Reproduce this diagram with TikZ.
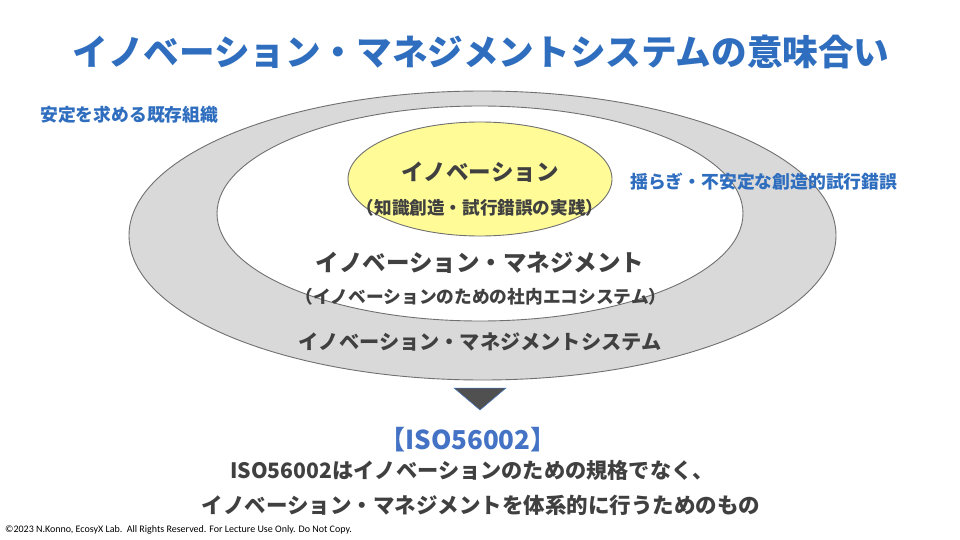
\documentclass[tikz,border=0pt]{standalone}
\usepackage{fontspec}
\setmainfont{Noto Sans CJK JP}
\newfontfamily\copyfont{Carlito}
\usetikzlibrary{shapes.geometric}
\definecolor{titleblue}{HTML}{2F6EBF}
\definecolor{isoblue}{HTML}{4472C4}
\definecolor{darktext}{HTML}{404040}
\definecolor{ringgray}{HTML}{D9D9D9}
\definecolor{edgegray}{HTML}{707070}
\definecolor{innoyellow}{HTML}{FFFB97}
\definecolor{arrowgray}{HTML}{505050}
\tikzset{
  ring/.style={ellipse, draw=edgegray, line width=0.9pt, inner sep=0pt},
  bluelabel/.style={text=titleblue, font=\bfseries\fontsize{17.8}{20}\selectfont, inner sep=0pt},
  darklabel/.style={text=darktext, inner sep=0pt},
}
\begin{document}
\begin{tikzpicture}[x=1pt,y=-1pt]
\useasboundingbox[fill=white] (0,0) rectangle (960,540);
% ellipses
\node[ring, fill=ringgray, minimum width=707pt, minimum height=289pt] (outer) at (482.5,235.5) {};
\node[ring, fill=white, minimum width=526pt, minimum height=215pt] (inner) at (480,213.5) {};
\node[ring, fill=innoyellow, minimum width=264pt, minimum height=114pt] (core) at (480,179) {};
% title
\node[text=titleblue, font=\bfseries\fontsize{35.6}{42}\selectfont, inner sep=0pt] (title) at (481,52) {イノベーション・マネジメントシステムの意味合い};
% side labels
\node[bluelabel, anchor=west] (stable) at (40,115) {安定を求める既存組織};
\node[bluelabel, anchor=west] (fluct) at (630,182) {揺らぎ・不安定な創造的試行錯誤};
% inner texts
\node[darklabel, font=\bfseries\fontsize{22.5}{26}\selectfont] (innov) at (480,172) {イノベーション};
\node[darklabel, font=\bfseries\fontsize{17.6}{20}\selectfont] (innovsub) at (480,208) {（知識創造・試行錯誤の実践）};
\node[darklabel, font=\bfseries\fontsize{23.5}{27}\selectfont] (im) at (480,263) {イノベーション・マネジメント};
\node[darklabel, font=\bfseries\fontsize{17.7}{20}\selectfont] (imsub) at (481,297) {（イノベーションのための社内エコシステム）};
\node[darklabel, font=\bfseries\fontsize{20.2}{24}\selectfont] (ims) at (480,342) {イノベーション・マネジメントシステム};
% arrow triangle
\coordinate (tl) at (454,388);
\coordinate (tr) at (506,388);
\coordinate (tb) at (480,410);
\draw[fill=arrowgray, draw=isoblue, line width=0.5pt] (tl) -- (tr) -- (tb) -- cycle;
% bottom texts
\node[text=isoblue, font=\bfseries\fontsize{26}{30}\selectfont, inner sep=0pt] (iso) at (468,440) {【ISO56002】};
\node[darklabel, font=\bfseries\fontsize{21.2}{26}\selectfont] (line1) at (472,470) {ISO56002はイノベーションのための規格でなく、};
\node[darklabel, font=\bfseries\fontsize{21.5}{26}\selectfont] (line2) at (481,505) {イノベーション・マネジメントを体系的に行うためのもの};
\node[text=black, font=\copyfont\fontsize{10}{12}\selectfont, inner sep=0pt, anchor=west] (copy) at (5,530) {©2023 N.Konno, EcosyX Lab.\ \ All Rights Reserved. For Lecture Use Only. Do Not Copy.};
\end{tikzpicture}
\end{document}
